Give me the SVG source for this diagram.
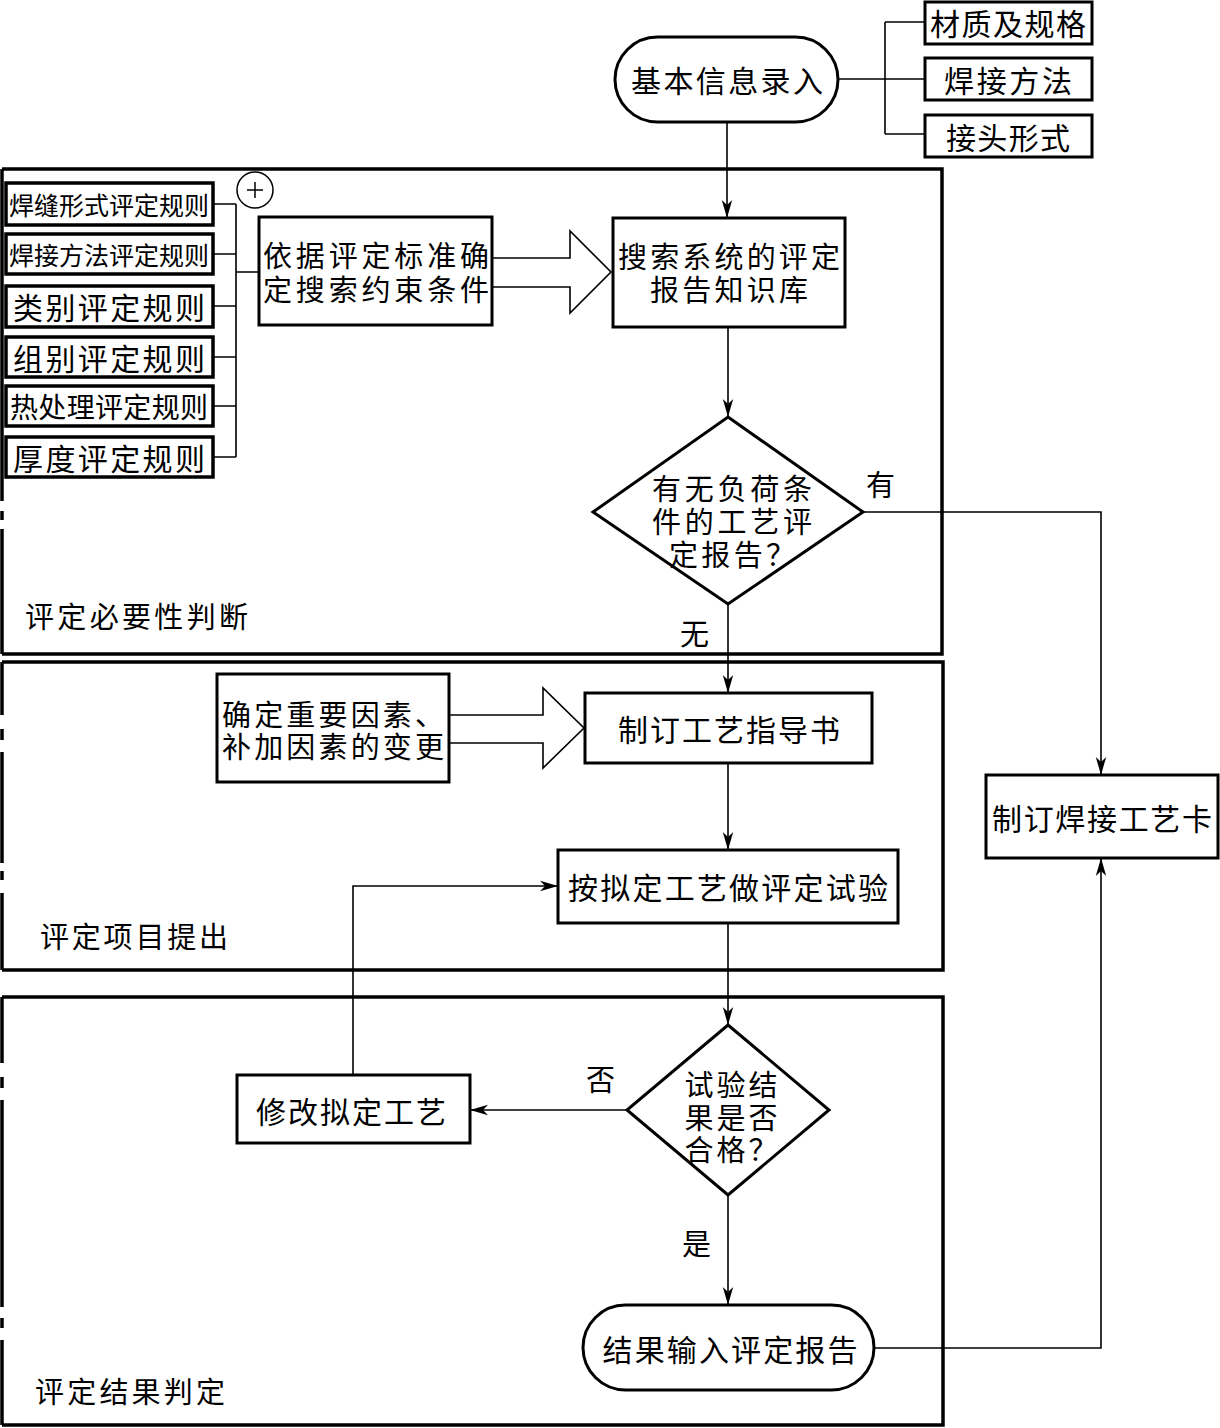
<svg xmlns="http://www.w3.org/2000/svg" width="1220" height="1428" viewBox="0 0 1220 1428">
<style>
.n{fill:#fff;stroke:#000;stroke-width:3}
.r{fill:#fff;stroke:#000;stroke-width:3.5}
.fr{fill:none;stroke:#000;stroke-width:3.5}
.c{fill:none;stroke:#000;stroke-width:1.6}
.t{font-family:"Noto Sans CJK SC","Noto Sans",sans-serif;font-size:30px;fill:#000;text-anchor:middle;dominant-baseline:central}
.m{font-size:29px}
.s{font-size:25px}
.s2{font-size:28px}
.l{font-family:"Noto Sans CJK SC","Noto Sans",sans-serif;font-size:29px;fill:#000;dominant-baseline:central}
</style>
<defs>
<marker id="ah" markerUnits="userSpaceOnUse" markerWidth="20" markerHeight="12" refX="18" refY="6" orient="auto">
<path d="M18,6 L0,0.8 L5,6 L0,11.2 Z" fill="#000"/>
</marker>
</defs>
<rect width="1220" height="1428" fill="#fff"/>

<g id="frames">
<path class="fr" d="M2,169 H942 V654 H2 M2,169 V501 M2,511 V520 M2,529 V654"/>
<path class="fr" d="M2,662 H943 V970 H2 M2,662 V715 M2,729 V740 M2,752 V863 M2,871 V880 M2,893 V970"/>
<path class="fr" d="M2,997 H943 V1425 H2 M2,997 V1063 M2,1077 V1088 M2,1100 V1307 M2,1318 V1328 M2,1340 V1425"/>
</g>

<g id="connectors">
<path class="c" d="M727,122 V218" marker-end="url(#ah)"/>
<path class="c" d="M838,79 H925 M885,22 V134 M885,22 H925 M885,134 H925"/>
<path class="c" d="M213,204 H236 M213,254 H236 M213,306 H236 M213,357 H236 M213,406 H236 M213,457 H236 M236,204 V457 M236,272 H259"/>
<path class="c" d="M492,258 H570 V231 L611,272 L570,313 V287 H492"/>
<path class="c" d="M728,327 V417" marker-end="url(#ah)"/>
<path class="c" d="M863,512 H1101 V775" marker-end="url(#ah)"/>
<path class="c" d="M728,604 V693" marker-end="url(#ah)"/>
<path class="c" d="M450,715 H543 V688 L584,728 L543,768 V743 H450"/>
<path class="c" d="M728,763 V850" marker-end="url(#ah)"/>
<path class="c" d="M728,923 V1025" marker-end="url(#ah)"/>
<path class="c" d="M353,1075 V886 H558" marker-end="url(#ah)"/>
<path class="c" d="M627,1110 H470" marker-end="url(#ah)"/>
<path class="c" d="M728,1195 V1305" marker-end="url(#ah)"/>
<path class="c" d="M874,1348 H1101 V858" marker-end="url(#ah)"/>
</g>

<g id="start"><rect class="n" x="615" y="37" width="223" height="85" rx="42.5"/><text class="t" x="727" y="79" textLength="192">基本信息录入</text></g>
<g id="material"><rect class="n" x="925" y="2" width="167" height="42"/><text class="t" x="1008" y="22" textLength="156">材质及规格</text></g>
<g id="method"><rect class="n" x="925" y="58" width="167" height="42"/><text class="t" x="1008" y="79" textLength="128">焊接方法</text></g>
<g id="joint"><rect class="n" x="925" y="115" width="167" height="42"/><text class="t" x="1008" y="136" textLength="124">接头形式</text></g>

<g id="rule1"><rect class="r" x="6" y="183" width="207" height="42"/><text class="t s" x="109" y="204" textLength="200">焊缝形式评定规则</text></g>
<g id="rule2"><rect class="r" x="6" y="234" width="207" height="40"/><text class="t s" x="109" y="254" textLength="200">焊接方法评定规则</text></g>
<g id="rule3"><rect class="r" x="6" y="286" width="207" height="41"/><text class="t" x="109" y="306" textLength="192">类别评定规则</text></g>
<g id="rule4"><rect class="r" x="6" y="337" width="207" height="40"/><text class="t" x="109" y="357" textLength="192">组别评定规则</text></g>
<g id="rule5"><rect class="r" x="6" y="386" width="207" height="40"/><text class="t s2" x="109" y="406" textLength="198">热处理评定规则</text></g>
<g id="rule6"><rect class="r" x="6" y="437" width="207" height="40"/><text class="t" x="109" y="457" textLength="192">厚度评定规则</text></g>
<g id="plus"><circle cx="255" cy="190" r="18" fill="#fff" stroke="#000" stroke-width="1.5"/><path d="M247,190 H263 M255,182 V198" stroke="#000" stroke-width="1.5"/></g>

<g id="constraint"><rect class="n" x="259" y="217" width="233" height="108"/><text class="t m"><tspan x="376" y="254" textLength="226">依据评定标准确</tspan><tspan x="376" y="288" textLength="226">定搜索约束条件</tspan></text></g>
<g id="search"><rect class="n" x="613" y="218" width="232" height="109"/><text class="t m"><tspan x="729" y="255" textLength="222">搜索系统的评定</tspan><tspan x="729" y="288" textLength="158">报告知识库</tspan></text></g>
<g id="decision1"><polygon class="n" points="728,417 863,512 728,604 593,512"/><text class="t m"><tspan x="732" y="487" textLength="160">有无负荷条</tspan><tspan x="732" y="520" textLength="160">件的工艺评</tspan><tspan x="732" y="553" textLength="126">定报告？</tspan></text></g>
<text class="l" x="866" y="483">有</text>
<text class="l" x="680" y="632">无</text>
<text class="l" x="25" y="615" textLength="223">评定必要性判断</text>

<g id="factors"><rect class="n" x="217" y="674" width="232" height="108"/><text class="t m"><tspan x="333" y="713" textLength="222">确定重要因素、</tspan><tspan x="333" y="745" textLength="222">补加因素的变更</tspan></text></g>
<g id="wps"><rect class="n" x="585" y="693" width="287" height="70"/><text class="t" x="729" y="728" textLength="222">制订工艺指导书</text></g>
<g id="test"><rect class="n" x="558" y="850" width="340" height="73"/><text class="t" x="728" y="886" textLength="320">按拟定工艺做评定试验</text></g>
<text class="l" x="40" y="935" textLength="188">评定项目提出</text>

<g id="card"><rect class="n" x="986" y="775" width="232" height="83"/><text class="t" x="1102" y="817" textLength="220">制订焊接工艺卡</text></g>

<g id="decision2"><polygon class="n" points="728,1025 829,1110 728,1195 627,1110"/><text class="t m"><tspan x="731" y="1083" textLength="93">试验结</tspan><tspan x="731" y="1116" textLength="93">果是否</tspan><tspan x="731" y="1148" textLength="93">合格？</tspan></text></g>
<text class="l" x="586" y="1078">否</text>
<g id="modify"><rect class="n" x="237" y="1075" width="233" height="68"/><text class="t" x="351" y="1110" textLength="190">修改拟定工艺</text></g>
<text class="l" x="682" y="1242">是</text>
<g id="result"><rect class="n" x="583" y="1305" width="291" height="85" rx="42.5"/><text class="t" x="730" y="1348" textLength="255">结果输入评定报告</text></g>
<text class="l" x="35" y="1390" textLength="190">评定结果判定</text>
</svg>
